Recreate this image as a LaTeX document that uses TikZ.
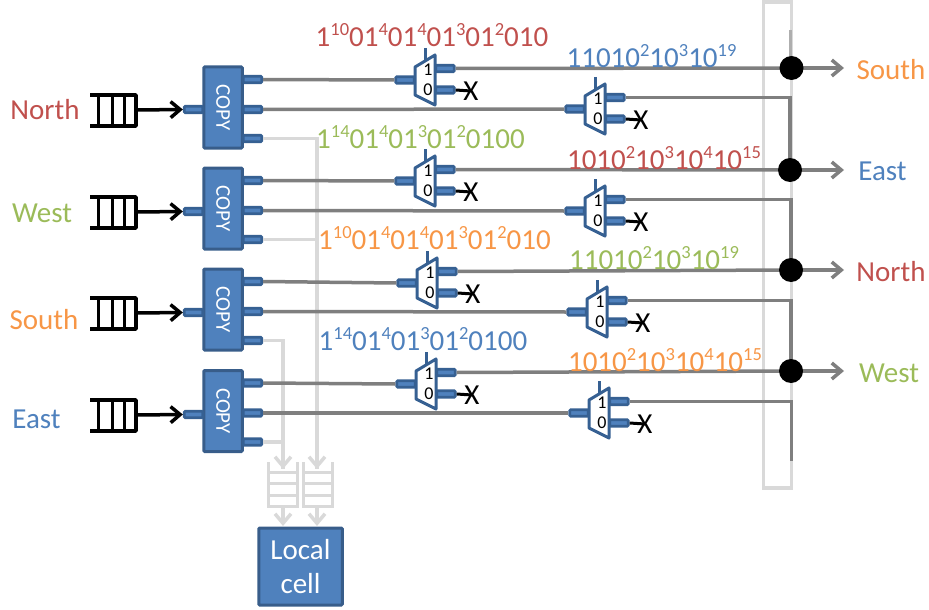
\documentclass[tikz,border=0pt]{standalone}
\usepackage{fontspec}
\setmainfont{Carlito}
\usetikzlibrary{arrows.meta}
\definecolor{boxblue}{HTML}{4F81BD}
\definecolor{edgeblue}{HTML}{385D8A}
\definecolor{muxblue}{HTML}{366092}
\definecolor{redtxt}{HTML}{C0504D}
\definecolor{greentxt}{HTML}{9BBB59}
\definecolor{orangetxt}{HTML}{F79646}
\definecolor{wiregray}{HTML}{7F7F7F}
\definecolor{lightgray}{HTML}{D9D9D9}
\newcommand{\pw}[1]{\raisebox{.37em}{\fontsize{18.5}{18.5}\selectfont #1}}
\newcommand{\seqA}{1\pw{10}01\pw{4}01\pw{4}01\pw{3}01\pw{2}010}
\newcommand{\seqB}{11010\pw{2}10\pw{3}10\pw{19}}
\newcommand{\seqC}{1\pw{14}01\pw{4}01\pw{3}01\pw{2}0100}
\newcommand{\seqD}{1010\pw{2}10\pw{3}10\pw{4}10\pw{15}}
\tikzset{
	port/.style={draw=muxblue, fill=boxblue, line width=2.8pt, minimum width=18.5pt, minimum height=6.5pt, inner sep=0pt, rounded corners=1pt},
	copybox/.style={draw=edgeblue, fill=boxblue, line width=3pt, minimum width=38.5pt, minimum height=81pt, inner sep=0pt, text=white, font=\fontsize{21}{21}\selectfont, rounded corners=1pt},
	cellbox/.style={copybox, minimum width=83.5pt, minimum height=77pt, align=center, font=\fontsize{29}{34}\selectfont},
	wire/.style={draw=wiregray, line width=3.5pt},
	lightwire/.style={draw=lightgray, line width=3.5pt},
	queuewire/.style={draw=lightgray, line width=3pt},
	arrowtip/.style={-{Straight Barb[length=9.5pt, width=16pt, line width=3.5pt]}},
	dirlabel/.style={font=\fontsize{29}{29}\selectfont, inner sep=0pt},
	seq/.style={font=\fontsize{29}{29}\selectfont, inner sep=0pt},
	bit/.style={font=\fontsize{18}{18}\selectfont, inner sep=0pt},
	xmark/.style={font=\fontsize{29}{29}\selectfont, inner sep=0pt},
	junction/.style={circle, fill=black, minimum size=24pt, inner sep=0pt},
}
% name, left edge, middle
\newcommand{\muxunit}[3]{
	\draw[draw=muxblue, fill=white, line width=3pt, line join=round] (#2,#3-13) -- (#2+20,#3-25) -- (#2+20,#3+25) -- (#2,#3+15) -- cycle;
	\draw[draw=muxblue, line width=3pt] (#2+10,#3-32) -- (#2+10,#3-20);
	\node[port] (#1in) at (#2-10,#3) {};
	\node[port] (#1one) at (#2+30,#3-11.5) {};
	\node[port] (#1zero) at (#2+30,#3+10) {};
	\node[bit] (#1b1) at (#2+13,#3-10) {1};
	\node[bit] (#1b0) at (#2+13,#3+10) {0};
	\node[xmark] (#1x) at (#2+56,#3+11) {X};
	\draw[black, line width=3pt] (#1zero.east) -- (#1x.center);
}
\begin{document}
\begin{tikzpicture}[x=1pt, y=-1pt]
	\useasboundingbox (0,0) rectangle (929,610);
	% backplane
	\draw[lightwire] (763.5,2) rectangle (791.5,488);
	\draw[draw=lightgray!80!black, line width=3pt] (790,30) -- (790,60);
	% queues and copy blocks
	\foreach \n/\y/\q in {1/107.5/110, 2/208.5/212, 3/309.5/313, 4/411/415}{
		\node[copybox] (c\n) at (223,\y) {\rotatebox{-90}{COPY}};
		\node[port] (c\n in) at (193.5,\q-.5) {};
		\node[port] (c\n a) at (252.5,\y-28) {};
		\node[port] (c\n b) at (252.5,\y+2) {};
		\node[port] (c\n c) at (252.5,\y+31) {};
		\draw[black, line width=3.5pt, line join=round] (90,\q-15) -- (136,\q-15) -- (136,\q+16) -- (90,\q+16);
		\foreach \x in {98,112,124}{
			\draw[black, line width=3pt] (\x,\q-15) -- (\x,\q+16);
		}
		\coordinate (q\n) at (136,\q);
		\draw[black, line width=3.5pt, arrowtip] (q\n) -- (c\n in.west);
	}
	% local cell
	\node[cellbox] (cell) at (300.5,566.5) {Local\\cell};
	\foreach \x in {268,303}{
		\draw[queuewire] (\x,462) -- (\x,506) -- (\x+29,506) -- (\x+29,462);
		\foreach \y in {472,483,495}{
			\draw[queuewire] (\x,\y) -- (\x+29,\y);
		}
	}
	\coordinate (qa) at (283,507);
	\coordinate (qb) at (317,507);
	\coordinate (qatop) at (283,469);
	\coordinate (qbtop) at (317,469);
	\coordinate (cella) at (283,526);
	\coordinate (cellb) at (317,526);
	\draw[lightwire, arrowtip] (qa) -- (cella);
	\draw[lightwire, arrowtip] (qb) -- (cellb);
	\draw[lightwire, arrowtip] (c1c.east) -| (qbtop);
	\draw[lightwire] (c2c.east) -| (qbtop);
	\draw[lightwire, arrowtip] (c3c.east) -| (qatop);
	\draw[lightwire] (c4c.east) -| (qatop);
	% muxes
	\muxunit{ma}{415}{80}
	\muxunit{mb}{585}{109}
	\muxunit{mc}{415}{181}
	\muxunit{md}{585}{211}
	\muxunit{me}{417}{283}
	\muxunit{mf}{587}{312}
	\muxunit{mg}{416}{384}
	\muxunit{mh}{589}{413}
	% wires
	\foreach \c/\p/\m in {1/a/ma, 1/b/mb, 2/a/mc, 2/b/md, 3/a/me, 3/b/mf, 4/a/mg, 4/b/mh}{
		\draw[wire] (c\c\p.east) -- (\m in.west);
	}
	\coordinate (dots) at (791.5,68);
	\coordinate (dote) at (790,170);
	\coordinate (dotn) at (791,270);
	\coordinate (dotw) at (791,371);
	\coordinate (ends) at (844,68);
	\coordinate (ende) at (844,170);
	\coordinate (endn) at (844,270);
	\coordinate (endw) at (844,371);
	\coordinate (stop) at (791.5,461);
	\draw[wire] (maone.east) -- (dots);
	\draw[wire] (mcone.east) -- (dote);
	\draw[wire] (meone.east) -- (dotn);
	\draw[wire] (mgone.east) -- (dotw);
	\draw[wire] (mbone.east) -| (dote);
	\draw[wire] (mdone.east) -| (dotn);
	\draw[wire] (mfone.east) -| (dotw);
	\draw[wire] (mhone.east) -| (stop);
	\draw[wire, arrowtip] (dots) -- (ends);
	\draw[wire, arrowtip] (dote) -- (ende);
	\draw[wire, arrowtip] (dotn) -- (endn);
	\draw[wire, arrowtip] (dotw) -- (endw);
	\node[junction] (js) at (dots) {};
	\node[junction] (je) at (dote) {};
	\node[junction] (jn) at (dotn) {};
	\node[junction] (jw) at (dotw) {};
	% sequences
	\node[seq, text=redtxt] (sa) at (432,35) {\seqA};
	\node[seq, text=boxblue] (sb) at (651.5,56) {\seqB};
	\node[seq, text=greentxt] (sc) at (420.5,137) {\seqC};
	\node[seq, text=redtxt] (sd) at (664,158) {\seqD};
	\node[seq, text=orangetxt] (se) at (434.5,238) {\seqA};
	\node[seq, text=greentxt] (sf) at (654,258) {\seqB};
	\node[seq, text=boxblue] (sg) at (423,339) {\seqC};
	\node[seq, text=orangetxt] (sh) at (665,360) {\seqD};
	% direction labels
	\node[dirlabel, text=redtxt] (lnorth) at (45,110) {North};
	\node[dirlabel, text=greentxt] (lwest) at (42,213) {West};
	\node[dirlabel, text=orangetxt] (lsouth) at (44,320) {South};
	\node[dirlabel, text=boxblue] (least) at (36.5,419) {East};
	\node[dirlabel, text=orangetxt] (rsouth) at (891,70) {South};
	\node[dirlabel, text=boxblue] (reast) at (882.5,171) {East};
	\node[dirlabel, text=redtxt] (rnorth) at (891,272) {North};
	\node[dirlabel, text=greentxt] (rwest) at (889,373) {West};
\end{tikzpicture}
\end{document}
